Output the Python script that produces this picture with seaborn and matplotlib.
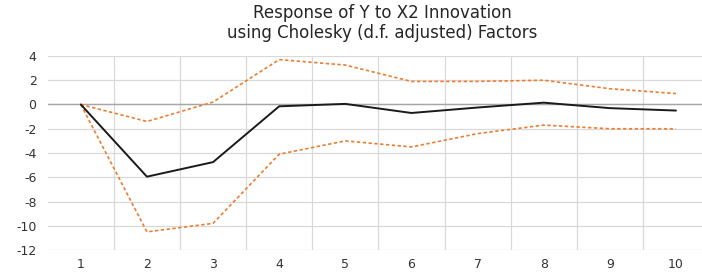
import numpy as np
import pandas as pd
import matplotlib.pyplot as plt
import seaborn as sns

periods = [1, 2, 3, 4, 5, 6, 7, 8, 9, 10]
response = [0.0, -5.95, -4.75, -0.15, 0.05, -0.7, -0.25, 0.15, -0.3, -0.5]
upper = [0.0, -1.4, 0.2, 3.7, 3.25, 1.9, 1.9, 2.0, 1.3, 0.9]
lower = [0.0, -10.5, -9.8, -4.1, -3.0, -3.5, -2.4, -1.7, -2.0, -2.0]
yticks = [4, 2, 0, -2, -4, -6, -8, -10, -12]

df = pd.DataFrame({'period': periods, 'response': response,
                   'upper': upper, 'lower': lower})

sns.set_style("white")
plt.rcParams['font.family'] = ['DejaVu Sans']

fig = plt.figure(figsize=(7.02, 2.73), dpi=100)
ax = fig.add_axes([0.068, 0.084, 0.942, 0.711])

orange = '#ED7D31'
sns.lineplot(data=df, x='period', y='upper', color=orange, lw=1.2,
             linestyle=(0, (2, 1.5)), ax=ax)
sns.lineplot(data=df, x='period', y='lower', color=orange, lw=1.2,
             linestyle=(0, (2, 1.5)), ax=ax)
sns.lineplot(data=df, x='period', y='response', color='#1a1a1a', lw=1.4, ax=ax)

ax.set_xlim(0.5, 10.5)
ax.set_ylim(-12, 4)
ax.set_xticks(periods)
ax.set_yticks(yticks)
ax.set_yticklabels([str(v) for v in yticks])

# Excel-style gridlines: vertical ones sit between categories
for xb in np.arange(1.5, 10.5, 1.0):
    ax.axvline(xb, color='#d9d9d9', lw=0.9, zorder=0)
for yv in yticks:
    ax.axhline(yv, color='#d9d9d9', lw=0.9, zorder=0)
ax.axhline(0, color='#a6a6a6', lw=1.0, zorder=0.5)

for s in ax.spines.values():
    s.set_visible(False)
ax.tick_params(axis='both', length=0, labelsize=9, colors='#333333')
ax.tick_params(axis='x', pad=6)
ax.tick_params(axis='y', pad=8)
ax.set_xlabel('')
ax.set_ylabel('')

fig.text(0.545, 0.953, 'Response of Y to X2 Innovation', ha='center', va='center',
         fontsize=12, color='#262626')
fig.text(0.545, 0.88, 'using Cholesky (d.f. adjusted) Factors', ha='center',
         va='center', fontsize=12, color='#262626')

fig.savefig('out.png', dpi=100)
